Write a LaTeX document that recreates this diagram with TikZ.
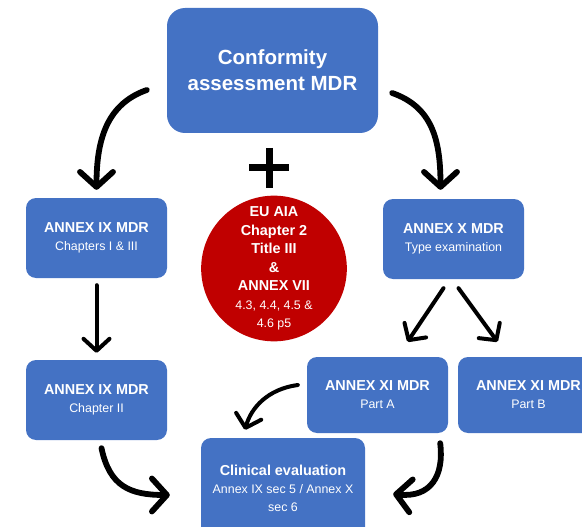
\documentclass[tikz,border=0pt]{standalone}
\usepackage{fontspec}
\setmainfont{Liberation Sans}
\usetikzlibrary{calc,arrows.meta,positioning}

\newcommand{\subline}[1]{{\fontsize{12.4}{15}\selectfont\mdseries #1}}

\begin{document}
\begin{tikzpicture}[x=1pt,y=-1pt,
    box/.style={fill=cBox,rounded corners=10pt,text=white,align=center,
      minimum width=141pt,minimum height=80pt,inner sep=2pt,
      font=\fontsize{14.4}{18}\selectfont\bfseries},
    bigarrow/.style={line width=5.8pt,line cap=round,
      -{Straight Barb[round,length=15pt,width=33pt]}},
    smallarrow/.style={line width=4pt,line cap=round,
      -{Straight Barb[round,length=12pt,width=26pt]}}]
  \definecolor{cBox}{RGB}{68,114,196}
  \definecolor{cRed}{RGB}{192,0,0}
  \useasboundingbox (0,0) rectangle (582,527);
  \clip (0,0) rectangle (582,527);

  % boxes
  \node[box,minimum width=211pt,minimum height=125pt,rounded corners=18pt,
    font=\fontsize{20.5}{26}\selectfont\bfseries] (top) at (272.5,70.5)
    {Conformity\\assessment MDR};
  \node[box] (ix1) at (96.5,238) {ANNEX IX MDR\\\subline{Chapters I \& III}};
  \node[box] (xbox) at (453.5,239) {ANNEX X MDR\\\subline{Type examination}};
  \node[box] (ix2) at (96.5,400) {ANNEX IX MDR\\\subline{Chapter II}};
  \node[box,minimum height=76pt] (xiA) at (377.5,395) {ANNEX XI MDR\\\subline{Part A}};
  \node[box,minimum height=76pt] (xiB) at (528.5,395) {ANNEX XI MDR\\\subline{Part B}};
  \node[box,minimum width=164pt,minimum height=100pt] (clin) at (283,488)
    {Clinical evaluation\\\subline{Annex IX sec 5 / Annex X}\\\subline{sec 6}};

  % AI act
  \node[circle,fill=cRed,minimum size=145pt,inner sep=0pt,text=white,align=center,
    font=\fontsize{14.4}{18.5}\selectfont\bfseries] (aia) at (274,268.5)
    {EU AIA\\Chapter 2\\Title III\\\&\\ANNEX VII\\\subline{4.3, 4.4, 4.5 \&}\\\subline{4.6 p5}};
  \coordinate (plus) at (269,168);
  \draw[line width=7pt] ($(plus)+(-20,0)$) -- ($(plus)+(20,0)$)
    ($(plus)+(0,-20)$) -- ($(plus)+(0,20)$);

  % arrows
  \draw[bigarrow] ($(top.west)+(-20,19.5)$) .. controls +(-40,14) and +(0,-50) .. ($(ix1.north)+(0,-8)$);
  \draw[bigarrow] ($(top.east)+(14,22.5)$) .. controls +(40,14) and +(0,-50) .. ($(xbox.north)+(-13,-9)$);
  \draw[smallarrow] ($(ix1.south)+(0,7)$) -- ($(ix2.north)+(0,-7)$);
  \draw[smallarrow] ($(xbox.south)+(-10,9)$) -- ($(xiA.north)+(30,-15)$);
  \draw[smallarrow] ($(xbox.south)+(5,9)$) -- ($(xiB.north)+(-31,-15)$);
  \draw[bigarrow] ($(ix2.south)+(5,8)$) .. controls +(8,38) and +(-40,0) .. ($(clin.west)+(-31,7)$);
  \draw[smallarrow] ($(xiA.west)+(-9,-10)$) .. controls +(-30,4) and +(6,-22) .. ($(clin.north)+(-38,-8)$);
  \draw[bigarrow] ($(xiA.south east)+(-8,10)$) .. controls +(4,32) and +(38,4) .. ($(clin.east)+(28,6)$);
\end{tikzpicture}
\end{document}
